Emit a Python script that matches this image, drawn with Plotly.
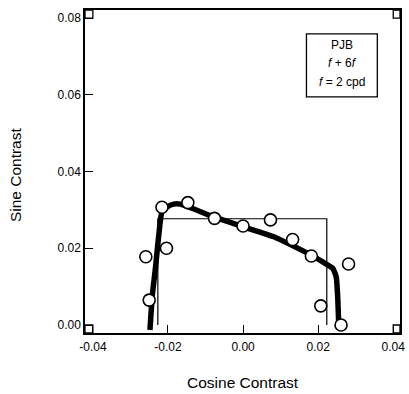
import plotly.graph_objects as go

# Data
obs_cos = [-0.0259, -0.0250, -0.0216, -0.0204, -0.0147, -0.0076, 0.0000, 0.0073, 0.0132, 0.0182, 0.0207, 0.0281, 0.0261]
obs_sin = [0.0178, 0.0065, 0.0307, 0.0200, 0.0319, 0.0278, 0.0258, 0.0274, 0.0223, 0.0180, 0.0050, 0.0159, 0.0000]

fit_cos = [-0.0248, -0.0242, -0.0233, -0.0224, -0.0216, -0.0202, -0.0185, -0.0167, -0.0076, 0.0001,
           0.0082, 0.0182, 0.0226, 0.0239, 0.0248, 0.0252, 0.0255]
fit_sin = [-0.0013, 0.0074, 0.0152, 0.0239, 0.0295, 0.0308, 0.0315, 0.0315, 0.0281, 0.0256,
           0.0230, 0.0182, 0.0156, 0.0148, 0.0126, 0.0074, -0.0004]

box_cos = [-0.0227, -0.0227, 0.0223, 0.0223]
box_sin = [0.0, 0.0277, 0.0277, 0.0]

x_ticks = [-0.04, -0.02, 0.0, 0.02, 0.04]
x_ticktext = ["-0.04", "-0.02", "0.00", "0.02", "0.04"]
y_ticks = [0.0, 0.02, 0.04, 0.06, 0.08]
y_ticktext = ["0.00", "0.02", "0.04", "0.06", "0.08"]

legend_lines = ["PJB", "<i>f</i> + 6<i>f</i>", "<i>f</i> = 2 cpd"]

X_RANGE = [-0.0421, 0.0418]
Y_RANGE = [-0.00208, 0.0821]

FONT = "Liberation Sans, Arial, sans-serif"

fig = go.Figure()

fig.add_trace(go.Scatter(x=box_cos, y=box_sin, mode="lines",
                         line=dict(color="black", width=1.2), hoverinfo="skip"))
fig.add_trace(go.Scatter(x=fit_cos, y=fit_sin, mode="lines",
                         line=dict(color="black", width=5.5, shape="spline", smoothing=0.5),
                         hoverinfo="skip"))
fig.add_trace(go.Scatter(x=obs_cos, y=obs_sin, mode="markers",
                         marker=dict(size=12, color="white", line=dict(color="black", width=1.6))))

# corner marks of the frame
corner_w = 0.0421 - 0.04
corner_h = 0.00208
for cx, cy, dx, dy in [(-0.04, 0.0, -1, -1), (0.04, 0.0, 1, -1), (-0.04, 0.08, -1, 1), (0.04, 0.08, 1, 1)]:
    fig.add_shape(type="rect", xref="x", yref="y",
                  x0=cx, x1=X_RANGE[0] if dx < 0 else X_RANGE[1],
                  y0=cy, y1=Y_RANGE[0] if dy < 0 else Y_RANGE[1],
                  line=dict(color="black", width=1.3), fillcolor="rgba(0,0,0,0)")

# legend box
fig.add_shape(type="rect", xref="paper", yref="paper", x0=0.703, x1=0.928, y0=0.731, y1=0.926,
              line=dict(color="black", width=1.3), fillcolor="white")
for txt, yy in zip(legend_lines, [0.892, 0.835, 0.776]):
    fig.add_annotation(text=txt, xref="paper", yref="paper", x=0.816, y=yy, showarrow=False,
                       xanchor="center", yanchor="middle", font=dict(family=FONT, size=12, color="black"))

fig.add_annotation(text="Cosine Contrast", xref="paper", yref="paper", x=0.5, y=-0.152,
                   showarrow=False, xanchor="center", yanchor="middle",
                   font=dict(family=FONT, size=15.5, color="black"))
fig.add_annotation(text="Sine Contrast", xref="paper", yref="paper", x=-0.222, y=0.489,
                   showarrow=False, xanchor="center", yanchor="middle", textangle=-90,
                   font=dict(family=FONT, size=15.5, color="black"))

fig.update_layout(
    width=409, height=394,
    margin=dict(l=85, r=4, t=10, b=61),
    paper_bgcolor="white", plot_bgcolor="white",
    showlegend=False,
    font=dict(family=FONT, size=12, color="black"),
    xaxis=dict(range=X_RANGE, tickvals=x_ticks, ticktext=x_ticktext, ticks="inside", ticklen=8,
               tickwidth=1.3, tickcolor="black", showline=True, linecolor="black", linewidth=1.5,
               mirror=True, showgrid=False, zeroline=False, ticklabelstandoff=2,
               tickfont=dict(family=FONT, size=12)),
    yaxis=dict(range=Y_RANGE, tickvals=y_ticks, ticktext=y_ticktext, ticks="inside", ticklen=8,
               tickwidth=1.3, tickcolor="black", showline=True, linecolor="black", linewidth=1.5,
               mirror=True, showgrid=False, zeroline=False, ticklabelstandoff=0,
               tickfont=dict(family=FONT, size=12)),
)

fig.write_html("out.html")
